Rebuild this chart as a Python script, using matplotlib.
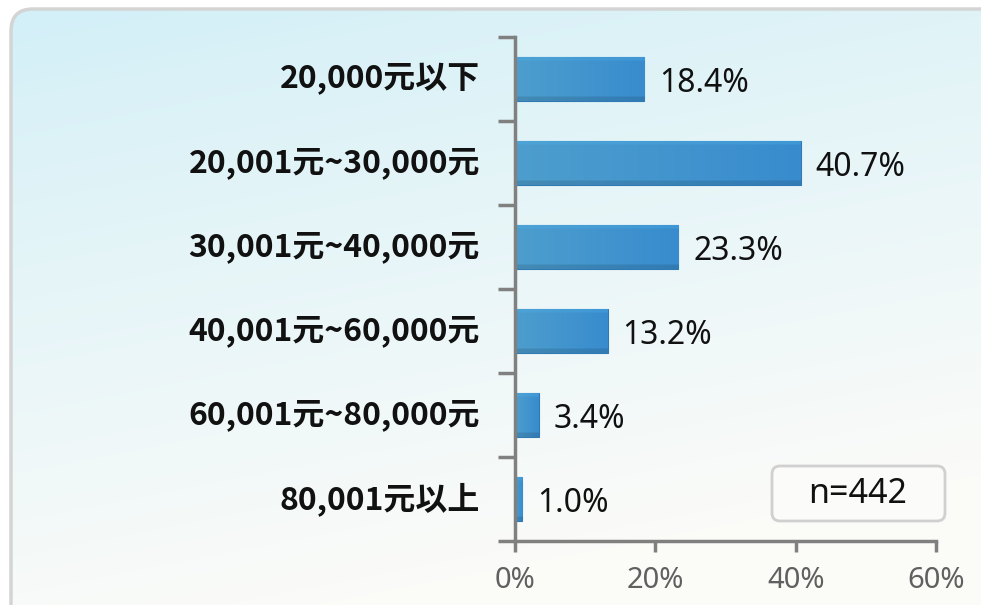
import numpy as np
import matplotlib
matplotlib.use("Agg")
import matplotlib.pyplot as plt
from matplotlib.patches import FancyBboxPatch
from matplotlib.colors import to_rgb

plt.rcParams['font.family'] = ['Noto Sans', 'Noto Sans CJK TC', 'DejaVu Sans']

categories = ["20,000元以下", "20,001元~30,000元", "30,001元~40,000元",
              "40,001元~60,000元", "60,001元~80,000元", "80,001元以上"]
values = [18.4, 40.7, 23.3, 13.2, 3.4, 1.0]
xticks = [0, 20, 40, 60]
xticklabels = ["0%", "20%", "40%", "60%"]
n_label = "n=442"

W, H = 981, 605
fig = plt.figure(figsize=(W / 100, H / 100), dpi=100)

# background
bg = fig.add_axes([0, 0, 1, 1])
bg.set_xlim(0, W)
bg.set_ylim(H, 0)
bg.axis('off')
yy, xx = np.mgrid[0:H, 0:W]
t = np.clip((xx / W) * 0.3 + (yy / H) * 0.95 - 0.05, 0, 1) ** 0.9
c1 = np.array([0.83, 0.94, 0.97])
c2 = np.array([0.985, 0.985, 0.975])
img = c1[None, None, :] * (1 - t[..., None]) + c2[None, None, :] * t[..., None]
img = np.clip(img, 0, 1)
fig.patch.set_facecolor('white')
im = bg.imshow(img, extent=(0, W, H, 0), zorder=1)
clipbox = FancyBboxPatch((11, 9), W + 40, H + 40, boxstyle="round,pad=0,rounding_size=22",
                         transform=bg.transData, facecolor='none', edgecolor='none')
bg.add_patch(clipbox)
im.set_clip_path(clipbox)
frame = FancyBboxPatch((11, 9), W + 40, H + 40, boxstyle="round,pad=0,rounding_size=22",
                       linewidth=2.5, edgecolor='#d4d4d4', facecolor='none', zorder=3)
bg.add_patch(frame)

# n box
nbox = FancyBboxPatch((772, 466), 173, 55, boxstyle="round,pad=0,rounding_size=8",
                      linewidth=2, edgecolor='#d0d0d0', facecolor='#fbfbf9', zorder=4)
bg.add_patch(nbox)
bg.text(858, 494, n_label, ha='center', va='center', fontsize=24.5, color='#111111', zorder=5)

# main axes
ax = fig.add_axes([515 / W, 1 - 541 / H, (936 - 515) / W, (541 - 37) / H])
ax.patch.set_alpha(0)
ypos = np.arange(len(categories))
bh = 0.53
bars = ax.barh(ypos, values, height=bh, color='#3a8fd1', edgecolor='#3079b5', linewidth=0.8, zorder=3)

# gradient fill for bars
left_c = np.array(to_rgb('#4d9ecd'))
right_c = np.array(to_rgb('#388cce'))
nx, ny = 200, 60
gx = np.linspace(0, 1, nx)[None, :, None]
base = left_c[None, None, :] * (1 - gx) + right_c[None, None, :] * gx
base = np.repeat(base, ny, axis=0)
gy = np.linspace(0, 1, ny)
for i, g in enumerate(gy):
    if g < 0.1:
        base[i] = base[i] * 0.7 + np.array(to_rgb('#4fb0e8')) * 0.3
    elif g > 0.9:
        base[i] = base[i] * 0.88
for bar, y, v in zip(bars, ypos, values):
    gi = ax.imshow(base, extent=(0, v, y + bh / 2, y - bh / 2), aspect='auto', zorder=4,
                   interpolation='bilinear')
    gi.set_clip_path(bar)
ax.set_xlim(0, 60)
ax.set_ylim(len(categories) - 0.5, -0.5)

for y, v in zip(ypos, values):
    ax.text(v + 2.1, y + 0.05, f"{v:.1f}%", ha='left', va='center', fontsize=23, color='#111111')

ax.set_yticks(np.arange(-0.5, len(categories) + 0.5, 1))
ax.set_yticklabels([])
ax.tick_params(axis='y', length=12, width=2.5, color='#808080', direction='out')
for y, c in zip(ypos, categories):
    ax.text(-0.083, y, c, transform=ax.get_yaxis_transform(), ha='right', va='center',
            fontsize=23, fontweight='bold', color='#111111',
            family=['Noto Sans CJK TC', 'DejaVu Sans'])

ax.set_xticks(xticks)
ax.set_xticklabels(xticklabels, fontsize=21, color='#606060')
ax.tick_params(axis='x', length=8, width=2.5, color='#808080', direction='out', pad=10)

for s in ['top', 'right']:
    ax.spines[s].set_visible(False)
for s in ['left', 'bottom']:
    ax.spines[s].set_color('#808080')
    ax.spines[s].set_linewidth(2.5)
    ax.spines[s].set_zorder(6)

fig.savefig('out.png', dpi=100)
